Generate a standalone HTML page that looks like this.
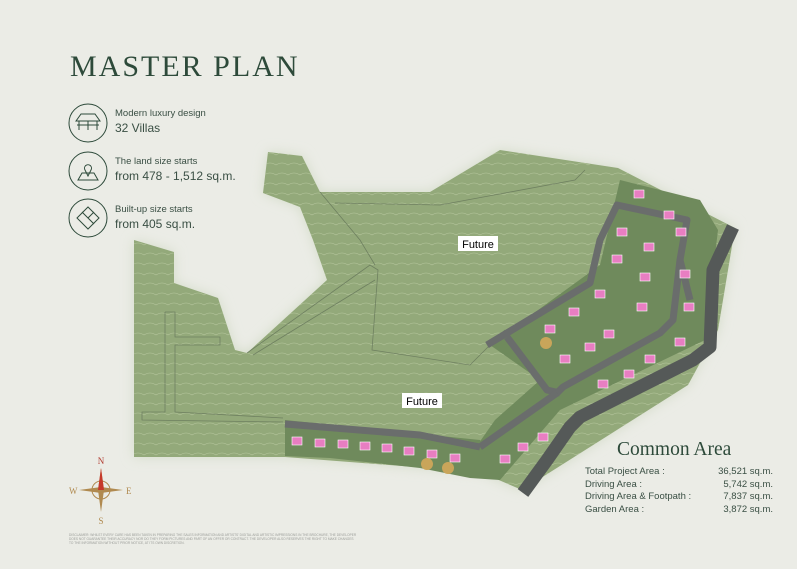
<!DOCTYPE html>
<html><head><meta charset="utf-8"><style>
body{margin:0;width:797px;height:564px;overflow:hidden;background:#ebece6;font-family:"Liberation Sans",sans-serif}
</style></head><body>
<svg width="797" height="564" viewBox="0 0 797 564" xmlns="http://www.w3.org/2000/svg">
<defs>
<filter id="bl"><feGaussianBlur stdDeviation="6"/></filter>
<pattern id="ct" width="12" height="10" patternUnits="userSpaceOnUse"><path d="M0 5 Q6 1 12 5" stroke="#b6c69e" stroke-width="0.6" fill="none"/></pattern>
</defs>
<rect width="797" height="564" fill="#ebece6"/>
<g id="land">
<polygon points="134,240 174,252 174,283 218,298 235,350 247,353 327,280 313,240 300,207 263,193 268,152 302,156 320,192 430,192 500,150 618,168 735,228 718,330 688,385 522,490 480,472 285,457 134,457" fill="#d3dbc8" filter="url(#bl)"/>
<polygon points="134,240 174,252 174,283 218,298 235,350 247,353 327,280 313,240 300,207 263,193 268,152 302,156 320,192 430,192 500,150 618,168 735,228 718,330 688,385 522,490 480,472 285,457 134,457" fill="#93a97a"/>
<polygon points="134,240 174,252 174,283 218,298 235,350 247,353 327,280 313,240 300,207 263,193 268,152 302,156 320,192 430,192 500,150 618,168 735,228 718,330 688,385 522,490 480,472 285,457 134,457" fill="url(#ct)"/>
</g>
<!-- faint lines -->
<g stroke="#5f6f55" stroke-width="0.8" fill="none" opacity="0.7">
<polyline points="165,312 175,312 175,337 220,337 220,345 175,345 175,412 283,418"/>
<polyline points="165,312 165,412 142,412 142,420 283,422"/>
<polyline points="247,353 370,265 378,270 372,350 470,365 505,330"/>
<polyline points="253,355 375,280"/>
<polyline points="320,192 360,240 375,265"/>
<polyline points="335,203 440,205 575,180 585,170"/>
</g>
<!-- villa cluster -->
<polygon points="490,345 600,265 620,180 700,200 718,230 705,340 560,410 530,445 500,480 460,470 495,420 540,380" fill="#6f8a5c"/>
<polygon points="285,420 480,440 500,480 470,478 420,468 330,458 285,456" fill="#6f8a5c"/>
<!-- roads -->
<g stroke="#6a6d6c" stroke-width="7" fill="none" stroke-linejoin="round">
<polyline points="487,345 590,283 600,240 617,205 687,220 680,260 673,320 660,333 563,387 557,393"/>
<polyline points="507,337 547,390 560,393"/>
<polyline points="557,393 480,447"/>
<polyline points="285,424 420,435 480,447"/>
<polyline points="680,260 690,300"/>
</g>
<polyline points="733,227 713,270 710,347 693,360 580,417 570,427 547,460 523,493" stroke="#555958" stroke-width="13" fill="none" stroke-linejoin="round"/>
<!-- villa labels -->
<g fill="#e87ec2" stroke="#fff" stroke-width="0.6">
<rect x="634" y="190" width="10" height="8"/><rect x="664" y="211" width="10" height="8"/>
<rect x="617" y="228" width="10" height="8"/><rect x="644" y="243" width="10" height="8"/>
<rect x="612" y="255" width="10" height="8"/><rect x="640" y="273" width="10" height="8"/>
<rect x="595" y="290" width="10" height="8"/><rect x="637" y="303" width="10" height="8"/>
<rect x="569" y="308" width="10" height="8"/><rect x="545" y="325" width="10" height="8"/>
<rect x="604" y="330" width="10" height="8"/><rect x="585" y="343" width="10" height="8"/>
<rect x="560" y="355" width="10" height="8"/><rect x="676" y="228" width="10" height="8"/>
<rect x="680" y="270" width="10" height="8"/><rect x="684" y="303" width="10" height="8"/>
<rect x="675" y="338" width="10" height="8"/><rect x="645" y="355" width="10" height="8"/>
<rect x="624" y="370" width="10" height="8"/><rect x="598" y="380" width="10" height="8"/>
<rect x="538" y="433" width="10" height="8"/><rect x="518" y="443" width="10" height="8"/>
<rect x="500" y="455" width="10" height="8"/>
<rect x="292" y="437" width="10" height="8"/><rect x="315" y="439" width="10" height="8"/>
<rect x="338" y="440" width="10" height="8"/><rect x="360" y="442" width="10" height="8"/>
<rect x="382" y="444" width="10" height="8"/><rect x="404" y="447" width="10" height="8"/>
<rect x="427" y="450" width="10" height="8"/><rect x="450" y="454" width="10" height="8"/>
</g>
<g fill="#c9a55a"><circle cx="546" cy="343" r="6"/><circle cx="427" cy="464" r="6"/><circle cx="448" cy="468" r="6"/></g>
<!-- Future labels -->
<rect x="458" y="236" width="40" height="15" fill="#fff"/>
<text x="478" y="248" font-size="11" text-anchor="middle" fill="#000">Future</text>
<rect x="402" y="393" width="40" height="15" fill="#fff"/>
<text x="422" y="405" font-size="11" text-anchor="middle" fill="#000">Future</text>
<!-- title -->
<text x="70" y="76" font-family="Liberation Serif,serif" font-size="30" fill="#2d4a3a" letter-spacing="2">MASTER PLAN</text>
<g stroke="#2d4a3a" fill="none" stroke-width="1">
<circle cx="88" cy="123" r="19"/><circle cx="88" cy="171" r="19"/><circle cx="88" cy="218" r="19"/>
<path d="M76 121 L81 114 L95 114 L100 121 Z M79 121 V130 M97 121 V130 M88 121 V130 M77 125 H99"/>
<path d="M78 180 L82 173 L94 173 L98 180 Z M88 176 L85 170 A3.5 3.5 0 1 1 91 170 Z"/>
<path d="M77 218 L88 207 L99 218 L88 229 Z M82 212 L94 224 M88 218 L94 212"/>
</g>
<g fill="#3a4f44">
<text x="115" y="116" font-size="9.5">Modern luxury design</text>
<text x="115" y="132" font-size="12">32 Villas</text>
<text x="115" y="164" font-size="9.5">The land size starts</text>
<text x="115" y="180" font-size="12">from 478 - 1,512 sq.m.</text>
<text x="115" y="212" font-size="9.5">Built-up size starts</text>
<text x="115" y="228" font-size="12">from 405 sq.m.</text>
</g>
<!-- compass -->
<g transform="translate(101,490)">
<circle r="9" fill="none" stroke="#b08a50" stroke-width="1"/>
<polygon points="0,-22 3,0 0,22 -3,0" fill="#b08a50"/>
<polygon points="-22,0 0,-3 22,0 0,3" fill="#b08a50"/>
<polygon points="0,-22 3,0 -3,0" fill="#c6392b"/>
<text x="0" y="-26" font-family="Liberation Serif,serif" font-size="9" fill="#b03a2e" text-anchor="middle">N</text>
<text x="0" y="34" font-family="Liberation Serif,serif" font-size="9" fill="#b08a50" text-anchor="middle">S</text>
<text x="-32" y="4" font-family="Liberation Serif,serif" font-size="9" fill="#b08a50">W</text>
<text x="25" y="4" font-family="Liberation Serif,serif" font-size="9" fill="#b08a50">E</text>
</g>
<g fill="#9a9c98" font-size="3.2">
<text x="69" y="536">DISCLAIMER: WHILST EVERY CARE HAS BEEN TAKEN IN PREPARING THE SALES INFORMATION AND ARTISTS' DIGITAL AND ARTISTIC IMPRESSIONS IN THE BROCHURE, THE DEVELOPER</text>
<text x="69" y="540">DOES NOT GUARANTEE THEIR ACCURACY NOR DO THEY FORM PICTURES AND PART OF AN OFFER OR CONTRACT. THE DEVELOPER ALSO RESERVES THE RIGHT TO MAKE CHANGES</text>
<text x="69" y="544">TO THE INFORMATION WITHOUT PRIOR NOTICE, AT ITS OWN DISCRETION.</text>
</g>
<!-- common area -->
<text x="617" y="455" font-family="Liberation Serif,serif" font-size="19.5" fill="#2d4a3a">Common Area</text>
<g fill="#3a4f44" font-size="9.5">
<text x="585" y="474">Total Project Area :</text><text x="773" y="474" text-anchor="end">36,521 sq.m.</text>
<text x="585" y="487">Driving Area :</text><text x="773" y="487" text-anchor="end">5,742 sq.m.</text>
<text x="585" y="499">Driving Area &amp; Footpath :</text><text x="773" y="499" text-anchor="end">7,837 sq.m.</text>
<text x="585" y="512">Garden Area :</text><text x="773" y="512" text-anchor="end">3,872 sq.m.</text>
</g>
</svg>
</body></html>
